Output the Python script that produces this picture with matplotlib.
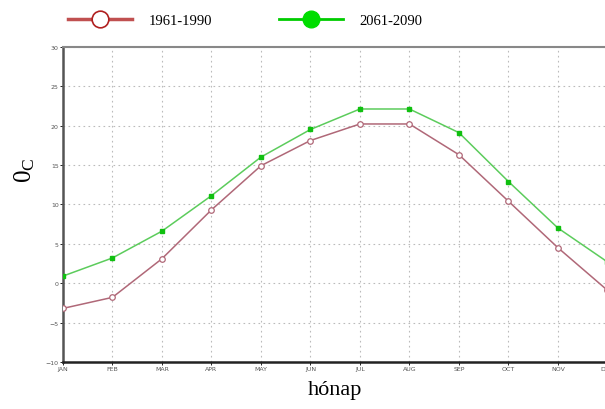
import matplotlib
matplotlib.use("Agg")
import matplotlib.pyplot as plt
from matplotlib.lines import Line2D

months = ['JAN', 'FEB', 'MAR', 'APR', 'MAY', 'JUN', 'JUL', 'AUG', 'SEP', 'OCT', 'NOV', 'DEC']
t_1961_1990 = [-3.2, -1.8, 3.1, 9.3, 14.9, 18.1, 20.2, 20.2, 16.3, 10.4, 4.5, -0.9]
t_2061_2090 = [0.9, 3.2, 6.6, 11.1, 16.0, 19.5, 22.1, 22.1, 19.1, 12.9, 7.0, 2.7]
yticks = [-10, -5, 0, 5, 10, 15, 20, 25, 30]

serif = ['Liberation Serif', 'DejaVu Serif']

fig = plt.figure(figsize=(6.05, 4.10), dpi=100)
ax = fig.add_axes([0.104, 0.1146, 0.9, 0.769])

x = range(len(months))
ax.plot(x, t_1961_1990, color='#b06878', lw=1.1, marker='o', ms=4,
        mfc='white', mec='#b06878', mew=0.9, zorder=3)
ax.plot(x, t_2061_2090, color='#5ccc5c', lw=1.1, marker='s', ms=3.5,
        mfc='#10c010', mec='#10c010', zorder=3)

ax.set_xlim(0, 11)
ax.set_ylim(-10, 30)
ax.set_xticks(list(x))
ax.set_xticklabels(months)
ax.set_yticks(yticks)
ax.tick_params(labelsize=4.5, labelcolor='#555555', length=2, width=0.6, pad=1)
ax.grid(True, color='#bbbbbb', linestyle=(0, (1.5, 3)), linewidth=0.8)

for s in ['top', 'right']:
    ax.spines[s].set_color('#888888')
    ax.spines[s].set_linewidth(1.5)
ax.spines['left'].set_color('#555555')
ax.spines['left'].set_linewidth(1.8)
ax.spines['bottom'].set_color('#222222')
ax.spines['bottom'].set_linewidth(1.8)

ax.set_xlabel('hónap', family=serif, fontsize=16, labelpad=6)
ax.set_ylabel(r'$\mathregular{0_C}$', family=serif, fontsize=18)
ax.yaxis.set_label_coords(-0.047, 0.61)

handles = [
    Line2D([], [], color='#c05050', lw=2.5, marker='o', ms=12, mfc='white',
           mec='#b02020', mew=1.2),
    Line2D([], [], color='#00cc00', lw=2, marker='o', ms=12, mfc='#00dd00',
           mec='#00dd00'),
]
fig.legend(handles, ['1961-1990', '2061-2090'], ncol=2, loc='center',
           bbox_to_anchor=(0.405, 0.948), frameon=False,
           prop={'family': serif, 'size': 10.5}, handlelength=4.4,
           handletextpad=1.1, columnspacing=4.6)

fig.savefig('out.png', dpi=100)
